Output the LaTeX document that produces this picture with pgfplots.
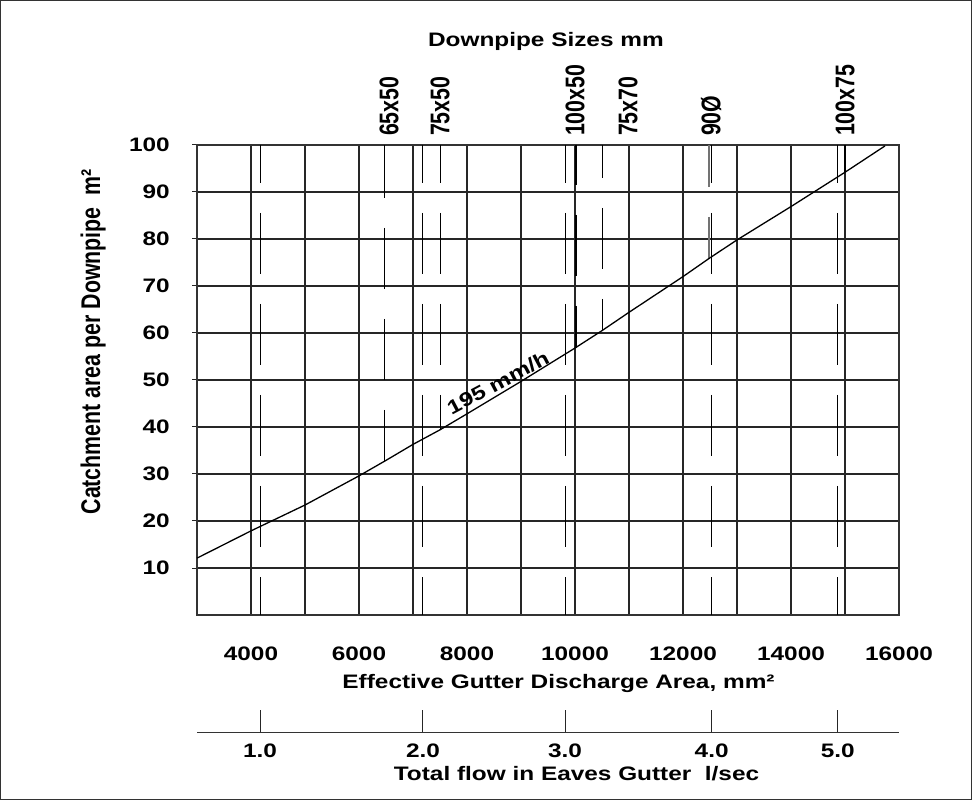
\documentclass[border=0pt]{standalone}
\usepackage{pgfplots}
\pgfplotsset{compat=1.18}
\usepackage{fontspec}
\setmainfont{Liberation Sans}[FakeStretch=1.25]
\newfontfamily\narrowfont{Liberation Sans}[FakeStretch=0.79]
\newcommand\lab{\fontsize{19.5bp}{22bp}\selectfont\bfseries}
\newcommand\rlab{\narrowfont\fontsize{27bp}{30bp}\selectfont\bfseries}

\begin{document}
\begin{tikzpicture}
\begin{axis}[
    scale only axis, width=702bp, height=470bp,
    xmin=3000, xmax=16000, ymin=0, ymax=100,
    scaled x ticks=false, scaled y ticks=false,
    xtick={4000,6000,8000,10000,12000,14000,16000},
    xticklabels={4000,6000,8000,10000,12000,14000,16000},
    minor xtick={5000,7000,9000,11000,13000,15000},
    ytick={10,20,30,40,50,60,70,80,90,100},
    yticklabels={10,20,30,40,50,60,70,80,90,100},
    ytick pos=left,
    grid=both,
    major grid style={black!85, line width=1.1bp},
    minor grid style={black!85, line width=1.1bp},
    axis line style={black!80, line width=1.1bp},
    xtick style={draw=none},
    ytick style={black!85, line width=1bp},
    tick align=outside, major tick length=5bp,
    /pgf/number format/assume math mode=true,
    xticklabel style={font=\lab, anchor=base, yshift=-40bp},
    yticklabel style={font=\lab, anchor=east, inner sep=0pt, xshift=-22bp},
    xlabel={Effective Gutter Discharge Area, mm²},
    xlabel style={font=\lab, at={(axis description cs:0.515,0)}, anchor=base, yshift=-73.7bp},
    ylabel={Catchment area per Downpipe~~m²},
    ylabel style={font=\rlab, at={(axis description cs:-0.148,0.581)}, anchor=center},
    title={Downpipe Sizes mm},
    title style={font=\lab, at={(axis description cs:0.497,1)}, anchor=base, yshift=93bp},
    clip=false,
]
% flow reference lines (l/sec)
\addplot[black, line width=1bp, dash pattern=on 61bp off 30bp, dash phase=23bp] coordinates {(4167,100) (4167,0)};
\addplot[black, line width=1bp, dash pattern=on 61bp off 30bp, dash phase=23bp] coordinates {(7185,100) (7185,0)};
\addplot[black, line width=1bp, dash pattern=on 61bp off 30bp, dash phase=23bp] coordinates {(9815,100) (9815,0)};
\addplot[black, line width=1bp, dash pattern=on 61bp off 30bp, dash phase=23bp] coordinates {(12531,100) (12531,0)};
\addplot[black, line width=1bp, dash pattern=on 61bp off 30bp, dash phase=23bp] coordinates {(14865,100) (14865,0)};
% downpipe lines, down to the curve
\addplot[black, line width=1bp, dash pattern=on 61bp off 30bp, dash phase=8bp] coordinates {(6481,100) (6481,32.8)};
\addplot[black, line width=1bp, dash pattern=on 61bp off 30bp, dash phase=23bp] coordinates {(7500,100) (7500,39.4)};
\addplot[black, line width=2bp, dash pattern=on 61bp off 30bp, dash phase=21bp] coordinates {(10013,100) (10013,56.8)};
\addplot[black, line width=1bp, dash pattern=on 61bp off 30bp, dash phase=28bp] coordinates {(10500,100) (10500,60.5)};
\addplot[black!55, line width=2.5bp, dash pattern=on 61bp off 30bp, dash phase=19bp] coordinates {(12481,100) (12481,76.0)};
\addplot[black, line width=2bp] coordinates {(15000,100) (15000,94.2)};
% 195 mm/h curve
\addplot[black, line width=1.3bp] coordinates {
    (3000,12.1) (4000,17.9) (5000,23.4) (6000,29.6) (6500,32.9) (7000,36.3)
    (7500,39.4) (8000,42.8) (9000,49.7) (10000,56.8) (10500,60.5) (11000,64.4)
    (12000,72.0) (12500,76.0) (13000,79.8) (14000,86.9) (15000,94.2) (15740,99.8)
};
\node[font=\lab, rotate=28, anchor=center, inner sep=0pt] at (axis cs:8574,49.4) {195 mm/h};
% downpipe size labels
\node[font=\rlab, rotate=90, anchor=west, inner sep=0pt] at (axis cs:6556,101.9) {65x50};
\node[font=\rlab, rotate=90, anchor=west, inner sep=0pt] at (axis cs:7500,101.9) {75x50};
\node[font=\rlab, rotate=90, anchor=west, inner sep=0pt] at (axis cs:10000,101.9) {100x50};
\node[font=\rlab, rotate=90, anchor=west, inner sep=0pt] at (axis cs:10981,101.9) {75x70};
\node[font=\rlab, rotate=90, anchor=west, inner sep=0pt] at (axis cs:12519,101.9) {90Ø};
\node[font=\rlab, rotate=90, anchor=west, inner sep=0pt] at (axis cs:15000,101.9) {100x75};
\end{axis}

% second scale: total flow
\begin{axis}[
    at={(0bp,-117.7bp)}, anchor=south west,
    scale only axis, width=702bp, height=20bp,
    xmin=3000, xmax=16000, ymin=0, ymax=1,
    scaled x ticks=false,
    hide y axis,
    axis x line=bottom,
    axis line style={-, black!80, line width=1.1bp},
    xtick={4167,7185,9815,12531,14865},
    xticklabels={1.0,2.0,3.0,4.0,5.0},
    tick align=inside, major tick length=23bp,
    xtick style={black!85, line width=1bp},
    xticklabel style={font=\lab, anchor=base, yshift=-25bp},
    xlabel={Total flow in Eaves Gutter~~l/sec},
    xlabel style={font=\lab, at={(axis description cs:0.5406,0)}, anchor=base, yshift=-47.3bp},
]
\end{axis}

\draw[black!80, line width=1bp] (-196.5bp,-184.5bp) rectangle (774.5bp,614.5bp);
\end{tikzpicture}
\end{document}
